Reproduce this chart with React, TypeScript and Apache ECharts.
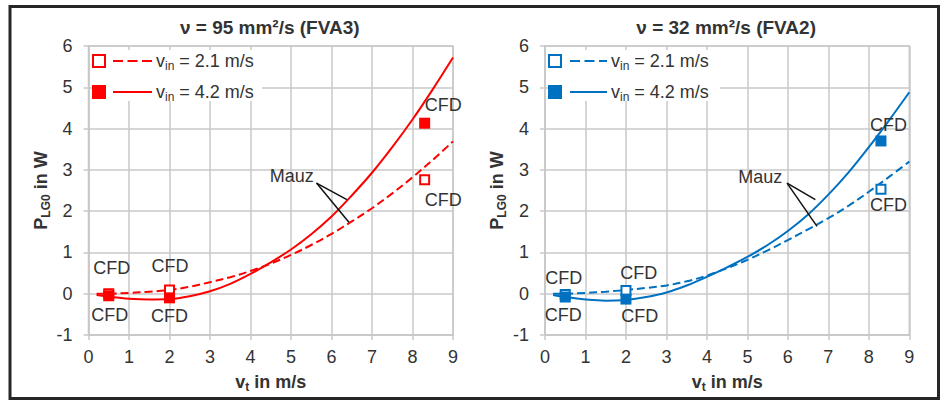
import React, { useEffect, useRef } from 'react';
import * as echarts from 'echarts';

// ---------- data ----------
const VT = [0.2, 0.5, 1, 1.5, 2, 2.5, 3, 3.5, 4, 4.5, 5, 5.5, 6, 6.5, 7, 7.5, 8, 8.5, 9];

// FVA3 (nu = 95 mm²/s), Mauz model
const FVA3_MAUZ_21 = [0.0, 0.0, 0.02, 0.05, 0.09, 0.17, 0.28, 0.4, 0.55, 0.73, 0.94, 1.18, 1.45, 1.75, 2.07, 2.43, 2.82, 3.24, 3.69];
const FVA3_MAUZ_42 = [-0.03, -0.07, -0.12, -0.14, -0.13, -0.06, 0.06, 0.24, 0.48, 0.76, 1.07, 1.44, 1.87, 2.38, 2.93, 3.55, 4.22, 4.95, 5.72];
// FVA2 (nu = 32 mm²/s), Mauz model
const FVA2_MAUZ_21 = [0.0, 0.0, 0.02, 0.05, 0.09, 0.14, 0.2, 0.3, 0.44, 0.62, 0.82, 1.05, 1.3, 1.56, 1.83, 2.13, 2.47, 2.83, 3.2];
const FVA2_MAUZ_42 = [-0.03, -0.08, -0.14, -0.17, -0.15, -0.08, 0.03, 0.2, 0.41, 0.64, 0.89, 1.18, 1.52, 1.92, 2.4, 2.94, 3.55, 4.2, 4.88];

// CFD points
const CFD_VT = [0.5, 2, 8.3];
const FVA3_CFD_21 = [0.0, 0.09, 2.76];
const FVA3_CFD_42 = [-0.05, -0.1, 4.13];
const FVA2_CFD_21 = [-0.02, 0.08, 2.53];
const FVA2_CFD_42 = [-0.08, -0.13, 3.7];

const TITLES = ['ν = 95 mm²/s (FVA3)', 'ν = 32 mm²/s (FVA2)'];
const LEGEND_VALUES = ['2.1 m/s', '4.2 m/s'];
const CFD_LABEL = 'CFD';
const MAUZ_LABEL = 'Mauz';

// ---------- styles / layout ----------
const RED = '#FF0000';
const BLUE = '#0070C0';
const FONT = "'Liberation Sans', Arial, Helvetica, sans-serif";
const TXT = '#333333';
const GRIDC = '#C8C8C8';
const FS = 18;

const PANELS = [
  {
    color: RED, left: 88.5, width: 364.5, title: TITLES[0],
    m21: FVA3_MAUZ_21, m42: FVA3_MAUZ_42, c21: FVA3_CFD_21, c42: FVA3_CFD_42,
    off21: [[3, -26], [0.5, -23.6], [18.6, 20]],
    off42: [[1, 19], [0, 18.6], [18.6, -18.4]],
    mauzText: [5.02, 2.84], mauzFrom: [5.63, 2.68], mauzTo42: [6.38, 2.28], mauzTo21: [6.43, 1.73],
    legX: 99, legLine: [113, 152], legText: 156, legBg: [92, 262],
  },
  {
    color: BLUE, left: 545, width: 364.3, title: TITLES[1],
    m21: FVA2_MAUZ_21, m42: FVA2_MAUZ_42, c21: FVA2_CFD_21, c42: FVA2_CFD_42,
    off21: [[-1.5, -16.5], [12.8, -17.4], [7.6, 15.5]],
    off42: [[-2, 18.4], [13.8, 17.3], [7.6, -16.2]],
    mauzText: [5.32, 2.82], mauzFrom: [5.98, 2.68], mauzTo42: [6.68, 2.28], mauzTo21: [6.72, 1.63],
    legX: 555, legLine: [570, 607], legText: 611, legBg: [549, 720],
  },
];
const GRID_TOP = 46;
const GRID_H = 289;

const pairs = (xs: number[], ys: number[]) => xs.map((x, i) => [x, ys[i]]);

const richName = {
  b: { fontWeight: 'bold', fontSize: FS, color: TXT, fontFamily: FONT, lineHeight: 22 },
  s: { fontWeight: 'bold', fontSize: 12, color: TXT, fontFamily: FONT, lineHeight: 12, padding: [10, 0, 0, 0] },
};
const richLeg = {
  m: { fontSize: FS, color: TXT, fontFamily: FONT, lineHeight: 22 },
  s: { fontSize: 12, color: TXT, fontFamily: FONT, lineHeight: 12, padding: [10, 0, 0, 0] },
};

function buildOption() {
  const grid: any[] = [];
  const xAxis: any[] = [];
  const yAxis: any[] = [];
  const series: any[] = [];
  const graphic: any[] = [];

  graphic.push({
    type: 'rect', z: 100, silent: true,
    shape: { x: 10, y: 6.5, width: 928.5, height: 392 },
    style: { fill: 'none', stroke: '#262626', lineWidth: 3 },
  });

  PANELS.forEach((p, i) => {
    grid.push({
      left: p.left, top: GRID_TOP, width: p.width, height: GRID_H,
      show: true, borderColor: GRIDC, borderWidth: 1.5, backgroundColor: 'transparent',
    });
    xAxis.push({
      gridIndex: i, type: 'value', min: 0, max: 9, interval: 1,
      axisLine: { show: true, onZero: false, lineStyle: { color: GRIDC, width: 1.5 } },
      axisTick: { show: true, length: 5, lineStyle: { color: GRIDC, width: 1.5 } },
      axisLabel: { color: TXT, fontSize: FS, fontFamily: FONT, margin: 13 },
      splitLine: { show: true, lineStyle: { color: GRIDC, width: 1.5 } },
      name: '{b|v}{s|t}{b| in m/s}', nameLocation: 'middle', nameGap: 36,
      nameTextStyle: { rich: richName },
    });
    yAxis.push({
      gridIndex: i, type: 'value', min: -1, max: 6, interval: 1,
      axisLine: { show: true, onZero: false, lineStyle: { color: GRIDC, width: 1.5 } },
      axisTick: { show: true, length: 5, lineStyle: { color: GRIDC, width: 1.5 } },
      axisLabel: { color: TXT, fontSize: FS, fontFamily: FONT, margin: 16 },
      splitLine: { show: true, lineStyle: { color: GRIDC, width: 1.5 } },
      name: '{b|P}{s|LG0}{b| in W}', nameLocation: 'middle', nameGap: 37, nameRotate: 90,
      nameTextStyle: { rich: richName },
    });

    const lbl = (off: number[]) => ({
      show: true, position: 'inside', offset: off, formatter: CFD_LABEL,
      color: TXT, fontSize: FS, fontFamily: FONT,
    });

    series.push({
      type: 'line', name: 'Mauz 2.1 ' + i, xAxisIndex: i, yAxisIndex: i,
      data: pairs(VT, p.m21), smooth: 0.35, symbol: 'none', showSymbol: false,
      lineStyle: { color: p.color, width: 2, type: [8, 4] }, z: 2,
    });
    series.push({
      type: 'line', name: 'Mauz 4.2 ' + i, xAxisIndex: i, yAxisIndex: i,
      data: pairs(VT, p.m42), smooth: 0.35, symbol: 'none', showSymbol: false,
      lineStyle: { color: p.color, width: 2 }, z: 2,
      markLine: {
        silent: true, symbol: ['none', 'none'], label: { show: false },
        lineStyle: { color: '#111', width: 1.5, type: 'solid' },
        emphasis: { disabled: true },
        data: [
          [{ coord: p.mauzFrom }, { coord: p.mauzTo42 }],
          [{ coord: p.mauzFrom }, { coord: p.mauzTo21 }],
        ],
      },
      markPoint: {
        silent: true, symbol: 'circle', symbolSize: 1,
        itemStyle: { color: 'rgba(0,0,0,0)' },
        label: { show: true, position: 'inside', formatter: MAUZ_LABEL, color: TXT, fontSize: FS, fontFamily: FONT },
        data: [{ coord: p.mauzText }],
      },
    });
    series.push({
      type: 'scatter', name: 'CFD 2.1 ' + i, xAxisIndex: i, yAxisIndex: i,
      symbol: 'rect', symbolSize: 9, z: 3,
      itemStyle: { color: '#ffffff', borderColor: p.color, borderWidth: 2, opacity: 1 },
      data: CFD_VT.map((v, j) => ({ value: [v, p.c21[j]], label: lbl(p.off21[j]) })),
    });
    series.push({
      type: 'scatter', name: 'CFD 4.2 ' + i, xAxisIndex: i, yAxisIndex: i,
      symbol: 'rect', symbolSize: 11, z: 4,
      itemStyle: { color: p.color, opacity: 1 },
      data: CFD_VT.map((v, j) => ({ value: [v, p.c42[j]], label: lbl(p.off42[j]) })),
    });

    // title
    graphic.push({
      type: 'text', x: p.left + p.width / 2 - 1, y: 27, z: 50,
      style: { text: p.title, fill: TXT, font: `bold 19px ${FONT}`, textAlign: 'center', textVerticalAlign: 'middle' },
    });
    // legend
    const rows = [61, 92];
    graphic.push({
      type: 'rect', z: 40, silent: true,
      shape: { x: p.legBg[0], y: 50, width: p.legBg[1] - p.legBg[0], height: 51 },
      style: { fill: '#ffffff' },
    });
    rows.forEach((ry, k) => {
      if (k === 0) {
        graphic.push({
          type: 'rect', z: 45, shape: { x: p.legX - 6, y: ry - 6, width: 12, height: 12 },
          style: { fill: '#fff', stroke: p.color, lineWidth: 2 },
        });
      } else {
        graphic.push({
          type: 'rect', z: 45, shape: { x: p.legX - 7, y: ry - 7, width: 14, height: 14 },
          style: { fill: p.color },
        });
      }
      graphic.push({
        type: 'line', z: 45, shape: { x1: p.legLine[0], y1: ry, x2: p.legLine[1], y2: ry },
        style: { stroke: p.color, lineWidth: 2, lineDash: k === 0 ? [10, 4.5] : null },
      });
      graphic.push({
        type: 'text', z: 45, x: p.legText, y: ry,
        style: {
          text: `{m|v}{s|in}{m| = ${LEGEND_VALUES[k]}}`, rich: richLeg,
          fill: TXT, font: `${FS}px ${FONT}`, textVerticalAlign: 'middle', textAlign: 'left',
        },
      });
    });
  });

  return {
    animation: false,
    backgroundColor: '#ffffff',
    textStyle: { fontFamily: FONT },
    grid, xAxis, yAxis, series, graphic,
  };
}

export default function App() {
  const ref = useRef<HTMLDivElement>(null);
  useEffect(() => {
    if (!ref.current) return;
    const chart = echarts.init(ref.current, undefined, { renderer: 'svg' });
    chart.setOption(buildOption() as any);
    return () => chart.dispose();
  }, []);
  return (
    <div
      ref={ref}
      style={{ position: 'absolute', left: 0, top: 0, width: 946, height: 402, background: '#fff' }}
    />
  );
}
